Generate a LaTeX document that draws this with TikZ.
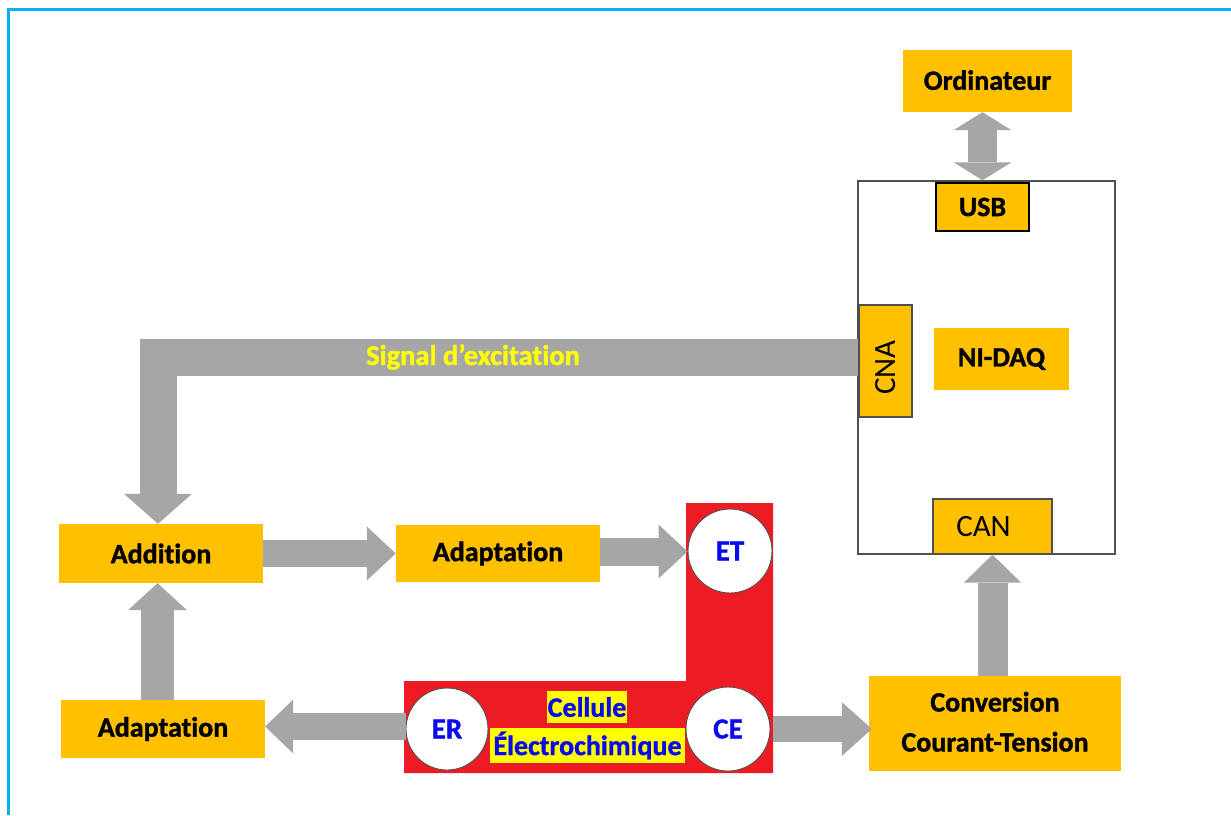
\documentclass[tikz,border=0pt]{standalone}
\usepackage{fontspec}
\setmainfont{Carlito}[Ligatures=NoCommon, BoldFeatures={FakeBold=1.2}]
\usetikzlibrary{arrows.meta}
\definecolor{boxorange}{HTML}{FFC000}
\definecolor{arrowgray}{HTML}{A6A6A6}
\definecolor{cellred}{HTML}{ED1C24}
\definecolor{framblue}{HTML}{00B0F0}
\definecolor{hlyellow}{HTML}{FFFF00}
\definecolor{txtblue}{RGB}{10,10,240}
\definecolor{edgegray}{HTML}{505050}
\tikzset{
  obox/.style={fill=boxorange, inner sep=0pt, font=\bfseries\fontsize{28}{34}\selectfont, text=black},
  electrode/.style={circle, fill=white, draw=edgegray, line width=0.9pt, inner sep=0pt, minimum size=#1, font=\bfseries\fontsize{29}{34}\selectfont, text=txtblue},
  hl/.style={fill=hlyellow, inner sep=0pt, font=\bfseries\fontsize{28}{34}\selectfont, text=txtblue},
  bigarrow/.style args={#1/#2/#3}{draw=arrowgray, line width=#1, line cap=butt, -{Triangle[length=#2, width=#3, line width=0pt]}},
}
\begin{document}
\begin{tikzpicture}[x=1pt, y=-1pt]
\useasboundingbox (0,0) rectangle (1231,815);
\fill[white] (0,0) rectangle (1231,815);
% frame
\draw[framblue, line width=3pt] (8,815) -- (8,9) -- (1231,9);

% red cell shape
\fill[cellred] (404,681) -- (686,681) -- (686,503) -- (773,503) -- (773,773) -- (404,773) -- cycle;

% nodes
\node[obox, minimum width=169pt, minimum height=62pt] (ordi) at (987.5,81) {\raisebox{2pt}{Ordinateur}};
\node[draw=edgegray, line width=1.5pt, fill=white, minimum width=257pt, minimum height=373pt, inner sep=0pt] (daq) at (986.5,367.5) {};
\node[obox, draw=black, line width=1.2pt, minimum width=93pt, minimum height=48pt] (usb) at (982.5,207) {USB};
\node[obox, draw=edgegray, line width=1.2pt, rotate=90, minimum width=112pt, minimum height=53pt, font=\fontsize{31}{34}\selectfont] (cna) at (885.5,361) {\hspace*{-13pt}\raisebox{-6.5pt}{CNA}};
\node[obox, minimum width=135pt, minimum height=62pt] (nidaq) at (1001.5,359) {NI-DAQ};
\node[obox, draw=edgegray, line width=1.2pt, minimum width=119pt, minimum height=55pt, font=\fontsize{31}{34}\selectfont] (can) at (992.5,526.5) {\hspace*{-18pt}\raisebox{-5pt}{CAN}};

\node[obox, minimum width=204pt, minimum height=59pt] (addition) at (161,553.5) {Addition};
\node[obox, minimum width=204pt, minimum height=57pt] (adapt1) at (498,553.5) {Adaptation};
\node[obox, minimum width=204pt, minimum height=58pt] (adapt2) at (163,729) {Adaptation};
\node[obox, minimum width=252pt, minimum height=95pt, align=center, font=\bfseries\fontsize{28}{40}\selectfont] (conv) at (995,723.5) {\raisebox{3pt}{\begin{tabular}{@{}c@{}}Conversion\\Courant-Tension\end{tabular}}};

\node[electrode=84pt] (et) at (730,551) {ET};
\node[electrode=82pt] (er) at (447,729) {ER};
\node[electrode=84pt] (ce) at (728,729) {CE};

\node[hl, minimum width=80pt, minimum height=32pt] (cel1) at (587,707) {Cellule};
\node[hl, minimum width=195pt, minimum height=35pt] (cel2) at (587.5,745.5) {Électrochimique};

% connectors
\coordinate (sig) at (858,357.5);
\draw[bigarrow=37pt/30pt/68pt, line join=miter] (sig) -| ([xshift=-3pt]addition.north);
\node[font=\bfseries\fontsize{28.5}{34}\selectfont, text=hlyellow] (sigtxt) at (473,357) {Signal d’excitation};

\draw[draw=arrowgray, line width=29pt, line cap=butt, {Triangle[length=18pt, width=58pt, line width=0pt]}-{Triangle[length=18pt, width=58pt, line width=0pt]}] (ordi.south -| usb.north) -- (daq.north -| usb.north);

\draw[bigarrow=27pt/29pt/54pt] (addition.east) -- (adapt1.west);
\draw[bigarrow=28pt/29pt/54pt] ([yshift=2pt]adapt1.east) -- ([yshift=2pt]adapt1.east -| et.west);
\draw[bigarrow=27pt/28pt/54pt] ([yshift=2.5pt]er.west) -- ([yshift=2.5pt]adapt2.east);
\draw[bigarrow=33pt/27pt/59pt] ([xshift=-5.5pt]adapt2.north) -- ([xshift=-5.5pt]adapt2.north |- addition.south);
\draw[bigarrow=26pt/30pt/54pt] ([xshift=3pt]ce.east) -- ([xshift=3pt]ce.east -| conv.west);
\draw[bigarrow=30pt/28pt/57pt] (conv.north -| can.south) -- (can.south);
\end{tikzpicture}
\end{document}
